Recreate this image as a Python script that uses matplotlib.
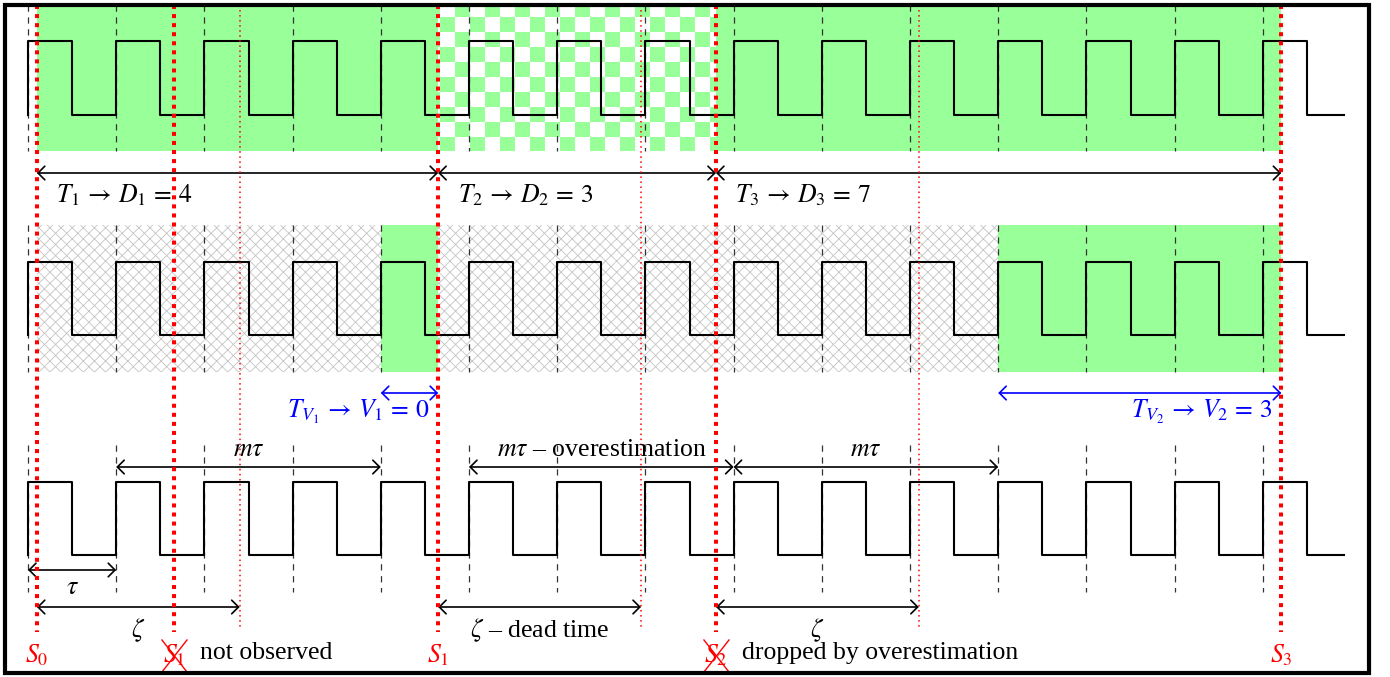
import matplotlib.pyplot as plt
import numpy as np
from matplotlib.patches import Rectangle
from matplotlib.colors import to_rgb

plt.rcParams['font.family'] = ['Liberation Serif', 'DejaVu Serif']
plt.rcParams['mathtext.fontset'] = 'stix'
plt.rcParams['hatch.linewidth'] = 0.6

# time in units of tau, rising edges at 0, 1, 2, ...
n_edges = 15
wave_end = 14.92

samples = [0.10, 1.655, 4.65, 7.80, 14.21]
sample_names = ['$S_0$', '$S_1$', '$S_1$', '$S_2$', '$S_3$']
observed = [True, False, True, False, True]
sample_notes = ['', 'not observed', '', 'dropped by overestimation', '']

zeta = 2.30
zeta_from = [0, 2, 3]
zeta_labels = [r'$\zeta$', r'$\zeta$ – dead time', r'$\zeta$']

windows = [(0.10, 4.65), (4.65, 7.80), (7.80, 14.21)]
D = [4, 3, 7]
checker_windows = [1]

hatch_span = (0.10, 11.0)
v_windows = [(4.0, 4.65), (11.0, 14.21)]
V = [0, 3]

m_spans = [(1, 4), (5, 8), (8, 11)]
m_labels = [r'$m\tau$', r'$m\tau$ – overestimation', r'$m\tau$']

GREEN = '#99ff99'
PX = 1 / 88.2          # one pixel in tau units
FS = 18.5

# rows: (wave high, wave low, band top, band bottom)
rows = [(41, 115, 5, 151), (262, 335, 225, 372), (482, 555, 445, 592)]

fig = plt.figure(figsize=(13.9, 6.77), dpi=100)
ax = fig.add_axes([0, 0, 1, 1])
ax.set_xlim(-28 * PX, (1390 - 28) * PX)
ax.set_ylim(677, 0)
ax.axis('off')

# --- row 1 backgrounds: green windows, checkered for the dropped one
for i, (a, b) in enumerate(windows):
    top, bot = rows[0][2], rows[0][3]
    if i in checker_windows:
        # checker of 15 px squares, built pixel by pixel
        xs = np.arange(round(a / PX) + 28, round(b / PX) + 28)
        ys = np.arange(top, bot)
        cell = (np.add.outer((ys - 2) // 15, (xs - 5) // 15) % 2) == 0
        img = np.ones((len(ys), len(xs), 3))
        img[cell] = to_rgb(GREEN)
        ax.imshow(img, extent=(a, b, bot, top), aspect='auto',
                  interpolation='nearest', zorder=1)
    else:
        ax.add_patch(Rectangle((a, top), b - a, bot - top, color=GREEN, lw=0, zorder=1))

# --- row 2 backgrounds: crosshatch, green valid windows
top, bot = rows[1][2], rows[1][3]
ax.add_patch(Rectangle((hatch_span[0], top), hatch_span[1] - hatch_span[0], bot - top,
                       facecolor='white', edgecolor='#c4c4c4', hatch='xxx', lw=0, zorder=1))
for a, b in v_windows:
    ax.add_patch(Rectangle((a, top), b - a, bot - top, color=GREEN, lw=0, zorder=1.5))

# --- square waves and dashed period markers
t, lv = [], []
for k in range(n_edges):
    t += [k, k, k + 0.5, k + 0.5]
    lv += [1, 0, 0, 1]
t.append(wave_end)
lv.append(1)
t = np.array(t)
lv = np.array(lv)
for hi, lo, top, bot in rows:
    ax.plot(t, hi + lv * (lo - hi), color='black', lw=1.5, zorder=3)
    for k in range(n_edges):
        ax.plot([k, k], [top, bot], color='#333333', lw=0.9,
                linestyle=(0, (5, 4.5)), zorder=2)

# --- sample lines
for s in samples:
    ax.plot([s, s], [5, 632], color='red', lw=2.9, linestyle=(0, (1, 1.25)), zorder=4)
for i in zeta_from:
    e = samples[i] + zeta
    ax.plot([e, e], [5, 630], color='red', lw=1.1, linestyle=(0, (1, 2.3)), zorder=4)

arrow = dict(arrowstyle='<->,head_length=0.35,head_width=0.35', lw=1.2,
             shrinkA=0, shrinkB=0, mutation_scale=14)
blue_arrow = dict(arrow, color='blue')

# --- row 1 arrows
for j, ((a, b), d) in enumerate(zip(windows, D)):
    ax.annotate('', xy=(b, 173), xytext=(a, 173), arrowprops=arrow, zorder=3)
    ax.text(a + 0.22, 195, rf'$T_{j + 1} \,\rightarrow\, D_{j + 1} \,=\, {d}$',
            fontsize=FS, ha='left', va='center', zorder=5)

# --- row 2 arrows
for j, ((a, b), v) in enumerate(zip(v_windows, V)):
    ax.annotate('', xy=(b, 393), xytext=(a, 393), arrowprops=blue_arrow, zorder=3)
    ax.text(b - 0.1, 412, rf'$T_{{V_{j + 1}}} \,\rightarrow\, V_{j + 1} \,=\, {v}$',
            fontsize=FS, ha='right', va='center', color='blue', zorder=5)

# --- row 3 arrows
for (a, b), lab in zip(m_spans, m_labels):
    ax.annotate('', xy=(b, 467), xytext=(a, 467), arrowprops=arrow, zorder=3)
    ax.text((a + b) / 2, 450, lab, fontsize=FS, ha='center', va='center', zorder=5)

ax.annotate('', xy=(1, 570), xytext=(0, 570), arrowprops=arrow, zorder=3)
ax.text(0.5, 588, r'$\tau$', fontsize=FS, ha='center', va='center', zorder=5)

for i, lab in zip(zeta_from, zeta_labels):
    a = samples[i]
    ax.annotate('', xy=(a + zeta, 607), xytext=(a, 607), arrowprops=arrow, zorder=3)
    ax.text(a + zeta / 2, 630, lab, fontsize=FS, ha='center', va='center', zorder=5)

# --- sample labels
for s, name, ok, note in zip(samples, sample_names, observed, sample_notes):
    ax.text(s, 655, name, fontsize=FS, color='red', ha='center', va='center', zorder=5)
    if not ok:
        ax.plot([s - 12 * PX, s + 13 * PX], [640, 672], color='red', lw=1, zorder=6)
        ax.plot([s - 12 * PX, s + 13 * PX], [672, 640], color='red', lw=1, zorder=6)
        ax.text(s + 26 * PX, 653, note, fontsize=FS, ha='left', va='center', zorder=5)

ax.add_patch(Rectangle((0.0036, 0.006), 0.9813, 0.9866, transform=ax.transAxes,
                       fill=False, lw=3, color='black', zorder=10))

fig.savefig('out.png', dpi=100)
